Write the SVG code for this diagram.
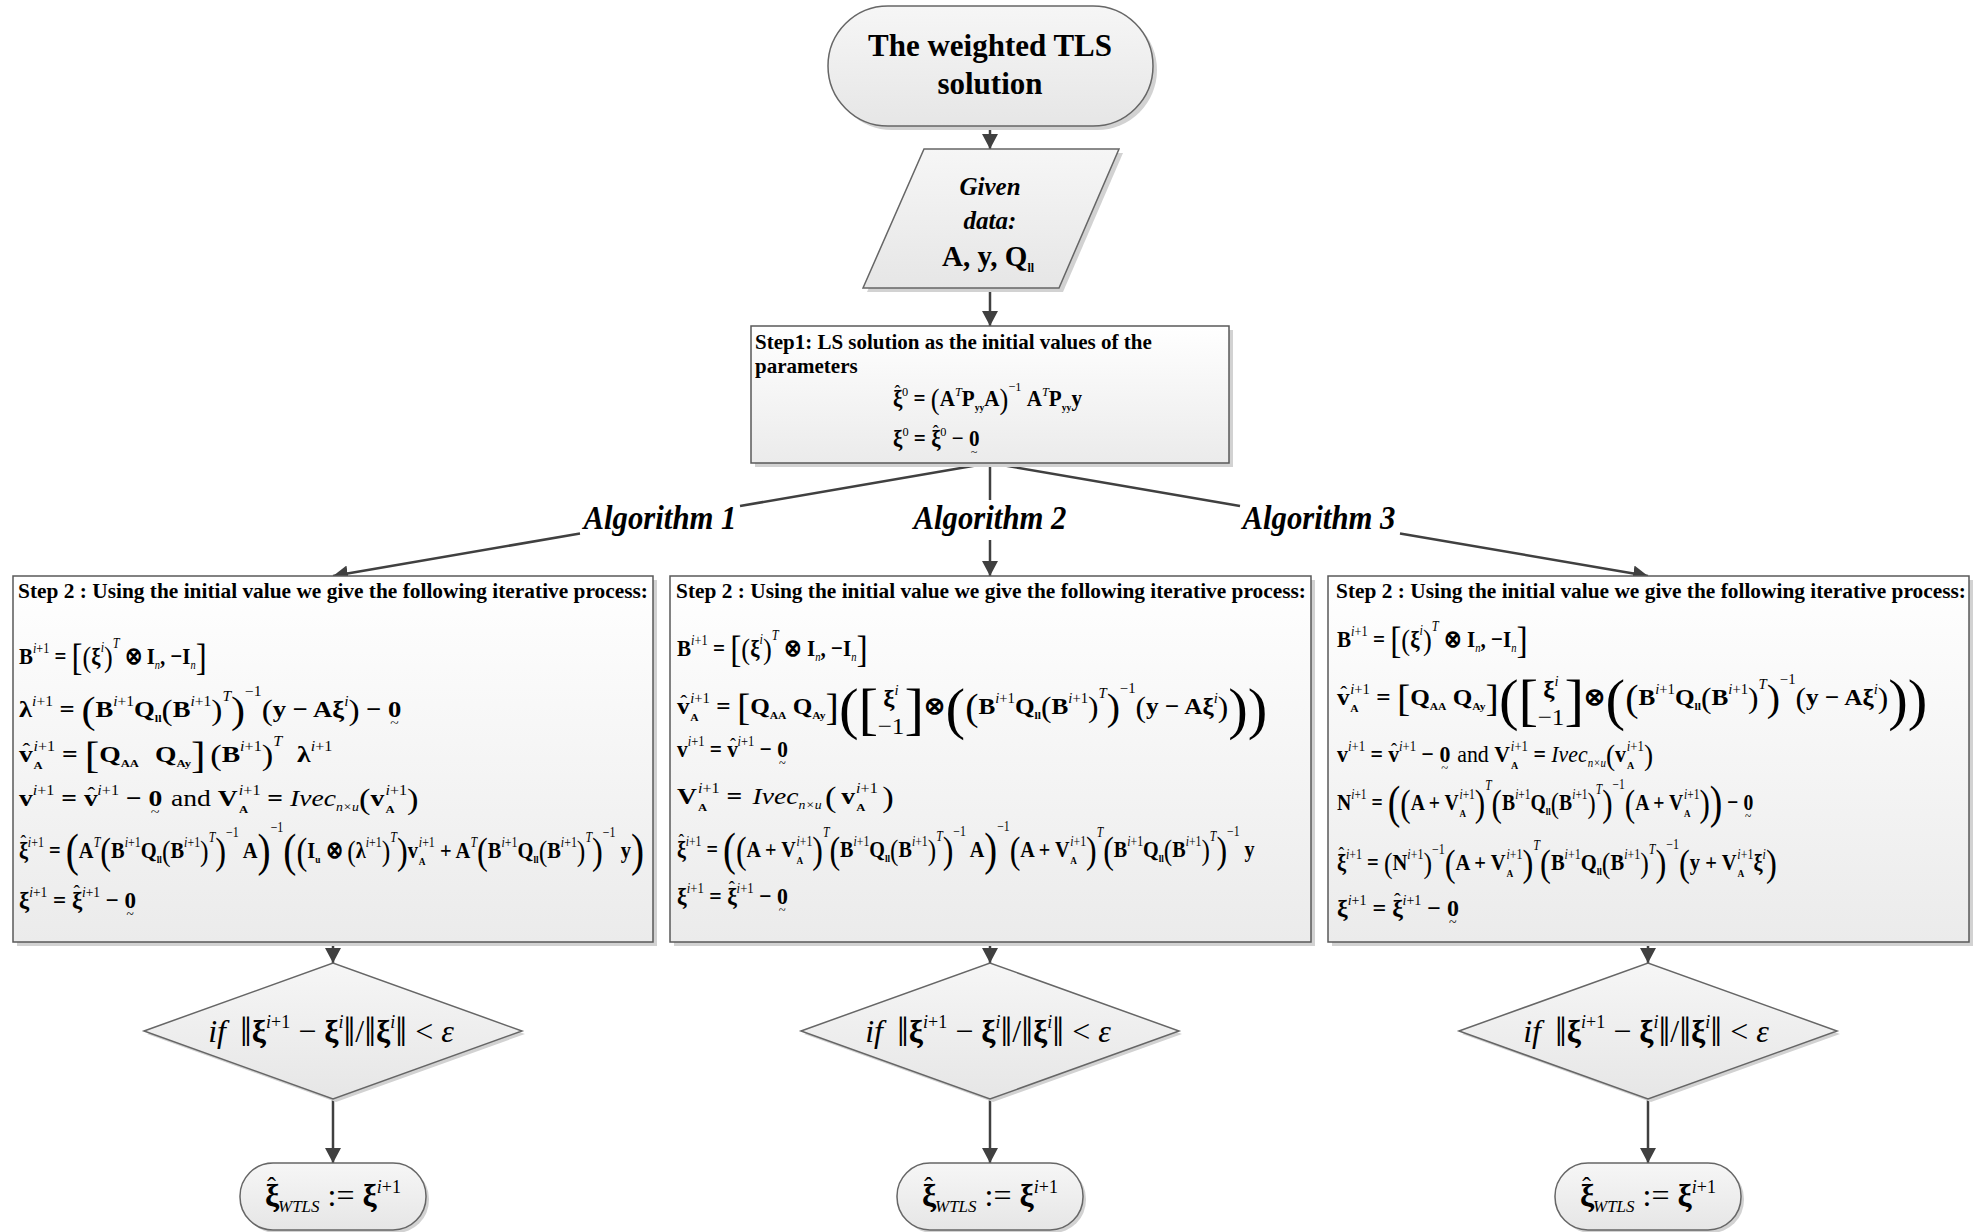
<svg xmlns="http://www.w3.org/2000/svg" width="1982" height="1232" viewBox="0 0 1982 1232">
<defs>
<style>
text{font-family:"Liberation Serif","Times New Roman",serif;fill:#000}
.box{fill:url(#gBox);stroke:#595959;stroke-width:1.5}
.term{fill:url(#gTerm);stroke:#666;stroke-width:1.5}
.sh{fill:#d2d2d2}
.cn{stroke:#404040;stroke-width:2.5;fill:none}
.ca{marker-end:url(#ah)}
.tt{font-size:31px;font-weight:bold}
.st{font-size:21px;font-weight:bold}
.gv{font-size:25px;font-weight:bold;font-style:italic}
.al{font-size:34px;font-weight:bold;font-style:italic}
.m{font-size:24px;font-weight:bold}
.r{font-weight:normal}
.i{font-style:italic;font-weight:normal}
.s{font-size:14px;font-weight:normal}
.sb{font-size:11px;font-weight:bold}
.si{font-size:12px;font-style:italic;font-weight:normal}
.p{font-size:30px;font-weight:normal}
.P{font-size:38px;font-weight:normal}
.Q{font-size:46px;font-weight:normal}
.B{font-size:56px;font-weight:normal}
.h{font-size:20px;font-weight:normal}
.t{font-size:14px;font-weight:normal}
.dt{font-size:32px}
.ds{font-size:18px}
.db{font-size:42px}
</style>
<linearGradient id="gBox" x1="0" y1="0" x2="0" y2="1"><stop offset="0" stop-color="#ffffff"/><stop offset="1" stop-color="#ebebeb"/></linearGradient>
<linearGradient id="gTerm" x1="0" y1="0" x2="0" y2="1"><stop offset="0" stop-color="#f6f6f6"/><stop offset="1" stop-color="#e6e6e6"/></linearGradient>
<marker id="ah" markerUnits="userSpaceOnUse" viewBox="0 0 15 16" refX="15" refY="8" markerWidth="15" markerHeight="16" orient="auto"><path d="M0,0 L15,8 L0,16 z" fill="#404040"/></marker>
</defs>
<rect width="1982" height="1232" fill="#fff"/>

<g id="connectors">
<line class="cn ca" x1="990" y1="126" x2="990" y2="149"/>
<line class="cn ca" x1="990" y1="288" x2="990" y2="326"/>
<line class="cn" x1="990" y1="463" x2="740" y2="506"/>
<line class="cn ca" x1="580" y1="533.5" x2="333" y2="576"/>
<line class="cn" x1="990" y1="463" x2="990" y2="500"/>
<line class="cn ca" x1="990" y1="540" x2="990" y2="576"/>
<line class="cn" x1="990" y1="463" x2="1240" y2="506"/>
<line class="cn ca" x1="1400" y1="533.5" x2="1648" y2="576"/>
<line class="cn ca" x1="333" y1="942" x2="333" y2="963"/>
<line class="cn ca" x1="990" y1="942" x2="990" y2="963"/>
<line class="cn ca" x1="1648" y1="942" x2="1648" y2="963"/>
<line class="cn ca" x1="333" y1="1099" x2="333" y2="1163"/>
<line class="cn ca" x1="990" y1="1099" x2="990" y2="1163"/>
<line class="cn ca" x1="1648" y1="1099" x2="1648" y2="1163"/>
<text class="al" x="660" y="529" text-anchor="middle" textLength="153" lengthAdjust="spacingAndGlyphs">Algorithm 1</text>
<text class="al" x="990" y="529" text-anchor="middle" textLength="153" lengthAdjust="spacingAndGlyphs">Algorithm 2</text>
<text class="al" x="1319" y="529" text-anchor="middle" textLength="153" lengthAdjust="spacingAndGlyphs">Algorithm 3</text>
</g>

<g id="start">
<rect class="sh" x="832" y="10" width="325" height="120" rx="60"/>
<rect class="term" x="828" y="6" width="325" height="120" rx="60"/>
<text class="tt" x="990" y="56" text-anchor="middle">The weighted TLS</text>
<text class="tt" x="990" y="94" text-anchor="middle">solution</text>
</g>

<g id="given">
<polygon class="sh" points="928,153 1123,153 1063,292 867,292"/>
<polygon class="term" points="924,149 1119,149 1059,288 863,288"/>
<text class="gv" x="990" y="195" text-anchor="middle">Given</text>
<text class="gv" x="990" y="229" text-anchor="middle">data:</text>
<text x="942" y="266" font-size="29" font-weight="bold">A, y, Q<tspan font-size="12" dy="6">ll</tspan></text>
</g>

<g id="step1">
<rect class="sh" x="755" y="330" width="478" height="137"/>
<rect class="box" x="751" y="326" width="478" height="137"/>
<text class="st" x="755" y="349">Step1: LS solution as the initial values of the</text>
<text class="st" x="755" y="373">parameters</text>
<g transform="translate(893,406) scale(0.88,0.95)"><text class="m"><tspan y="0">ξ</tspan><tspan class="h" dx="-9" y="-8">ˆ</tspan><tspan class="s" dx="2" y="-11">0</tspan><tspan y="0"> = </tspan><tspan class="p" y="3">(</tspan><tspan y="0">A</tspan><tspan class="s" y="-11" font-style="italic">T</tspan><tspan y="0">P</tspan><tspan class="sb" y="5">yy</tspan><tspan y="0">A</tspan><tspan class="p" y="3">)</tspan><tspan class="s" y="-16">−1</tspan><tspan y="0"> A</tspan><tspan class="s" y="-11" font-style="italic">T</tspan><tspan y="0">P</tspan><tspan class="sb" y="5">yy</tspan><tspan y="0">y</tspan></text></g>
<g transform="translate(893,446) scale(0.88,0.95)"><text class="m"><tspan y="0">ξ</tspan><tspan class="s" y="-11">0</tspan><tspan y="0"> = ξ</tspan><tspan class="h" dx="-9" y="-8">ˆ</tspan><tspan class="s" dx="2" y="-11">0</tspan><tspan y="0"> − 0</tspan><tspan class="t" dx="-10" y="11">~</tspan></text></g>
</g>

<g id="alg1">
<rect class="sh" x="17" y="580" width="640" height="366"/>
<rect class="box" x="13" y="576" width="640" height="366"/>
<text class="st" x="18" y="598" textLength="630" lengthAdjust="spacingAndGlyphs">Step 2 : Using the initial value we give the following iterative process:</text>
<g transform="translate(19,664) scale(0.87,1)"><text class="m"><tspan y="0">B</tspan><tspan class="s" y="-11"><tspan font-style="italic">i</tspan>+1</tspan><tspan y="0"> = </tspan><tspan class="P" y="6">[</tspan><tspan class="p" y="3">(</tspan><tspan y="0">ξ</tspan><tspan class="s" y="-12" font-style="italic">i</tspan><tspan class="p" y="3">)</tspan><tspan class="s" y="-16" font-style="italic">T</tspan><tspan y="0"> ⊗ I</tspan><tspan class="si" y="5">n</tspan><tspan y="0">, −I</tspan><tspan class="si" y="5">n</tspan><tspan class="P" y="6">]</tspan></text></g>
<g transform="translate(19,717) scale(1.11,1)"><text class="m"><tspan y="0">λ</tspan><tspan class="s" y="-11"><tspan font-style="italic">i</tspan>+1</tspan><tspan y="0"> = </tspan><tspan class="P" y="6">(</tspan><tspan y="0">B</tspan><tspan class="s" y="-11"><tspan font-style="italic">i</tspan>+1</tspan><tspan y="0">Q</tspan><tspan class="sb" y="5">ll</tspan><tspan class="p" y="3">(</tspan><tspan y="0">B</tspan><tspan class="s" y="-11"><tspan font-style="italic">i</tspan>+1</tspan><tspan class="p" y="3">)</tspan><tspan class="s" y="-16" font-style="italic">T</tspan><tspan class="P" y="6">)</tspan><tspan class="s" y="-21">−1</tspan><tspan class="p" y="3">(</tspan><tspan y="0">y − Aξ</tspan><tspan class="s" y="-11" font-style="italic">i</tspan><tspan class="p" y="3">)</tspan><tspan y="0"> − 0</tspan><tspan class="t" dx="-10" y="11">~</tspan></text></g>
<g transform="translate(19,762) scale(1.15,1)"><text class="m"><tspan y="0">v</tspan><tspan class="h" dx="-9" y="-4">ˆ</tspan><tspan class="sb" dx="3" y="7">A</tspan><tspan class="s" dx="-8" y="-11"><tspan font-style="italic">i</tspan>+1</tspan><tspan y="0"> = </tspan><tspan class="P" y="6">[</tspan><tspan y="0">Q</tspan><tspan class="sb" y="5">AA</tspan><tspan y="0" dx="8">  Q</tspan><tspan class="sb" y="5">Ay</tspan><tspan class="P" y="6">]</tspan><tspan class="p" y="3" dx="4">(</tspan><tspan y="0">B</tspan><tspan class="s" y="-11"><tspan font-style="italic">i</tspan>+1</tspan><tspan class="p" y="3">)</tspan><tspan class="s" y="-16" font-style="italic">T</tspan><tspan y="0" dx="7"> λ</tspan><tspan class="s" y="-11"><tspan font-style="italic">i</tspan>+1</tspan></text></g>
<g transform="translate(19,806) scale(1.15,1)"><text class="m"><tspan y="0">v</tspan><tspan class="s" y="-11"><tspan font-style="italic">i</tspan>+1</tspan><tspan y="0"> = v</tspan><tspan class="h" dx="-9" y="-4">ˆ</tspan><tspan class="s" dx="2" y="-11"><tspan font-style="italic">i</tspan>+1</tspan><tspan y="0"> − 0</tspan><tspan class="t" dx="-10" y="11">~</tspan><tspan class="r" dx="4" y="0">  and  </tspan><tspan y="0">V</tspan><tspan class="sb" dx="1" y="7">A</tspan><tspan class="s" dx="-8" y="-11"><tspan font-style="italic">i</tspan>+1</tspan><tspan y="0"> = </tspan><tspan class="i" y="0">Ivec</tspan><tspan class="si" y="5">n×u</tspan><tspan class="p" y="3">(</tspan><tspan y="0">v</tspan><tspan class="sb" dx="1" y="7">A</tspan><tspan class="s" dx="-8" y="-11"><tspan font-style="italic">i</tspan>+1</tspan><tspan class="p" y="3">)</tspan></text></g>
<g transform="translate(19,858) scale(0.853,1)"><text class="m"><tspan y="0">ξ</tspan><tspan class="h" dx="-9" y="-8">ˆ</tspan><tspan class="s" dx="2" y="-11"><tspan font-style="italic">i</tspan>+1</tspan><tspan y="0"> = </tspan><tspan class="Q" y="8">(</tspan><tspan y="0">A</tspan><tspan class="s" y="-11" font-style="italic">T</tspan><tspan class="P" y="6">(</tspan><tspan y="0">B</tspan><tspan class="s" y="-11"><tspan font-style="italic">i</tspan>+1</tspan><tspan y="0">Q</tspan><tspan class="sb" y="5">ll</tspan><tspan class="p" y="3">(</tspan><tspan y="0">B</tspan><tspan class="s" y="-11"><tspan font-style="italic">i</tspan>+1</tspan><tspan class="p" y="3">)</tspan><tspan class="s" y="-16" font-style="italic">T</tspan><tspan class="P" y="6">)</tspan><tspan class="s" y="-21">−1</tspan><tspan y="0"> A</tspan><tspan class="Q" y="8">)</tspan><tspan class="s" y="-26">−1</tspan><tspan class="Q" y="8">(</tspan><tspan class="P" y="6">(</tspan><tspan y="0">I</tspan><tspan class="sb" y="5">u</tspan><tspan y="0"> ⊗ </tspan><tspan class="p" y="3">(</tspan><tspan y="0">λ</tspan><tspan class="s" y="-11"><tspan font-style="italic">i</tspan>+1</tspan><tspan class="p" y="3">)</tspan><tspan class="s" y="-16" font-style="italic">T</tspan><tspan class="P" y="6">)</tspan><tspan y="0">v</tspan><tspan class="sb" dx="1" y="7">A</tspan><tspan class="s" dx="-8" y="-11"><tspan font-style="italic">i</tspan>+1</tspan><tspan y="0"> + A</tspan><tspan class="s" y="-11" font-style="italic">T</tspan><tspan class="P" y="6">(</tspan><tspan y="0">B</tspan><tspan class="s" y="-11"><tspan font-style="italic">i</tspan>+1</tspan><tspan y="0">Q</tspan><tspan class="sb" y="5">ll</tspan><tspan class="p" y="3">(</tspan><tspan y="0">B</tspan><tspan class="s" y="-11"><tspan font-style="italic">i</tspan>+1</tspan><tspan class="p" y="3">)</tspan><tspan class="s" y="-16" font-style="italic">T</tspan><tspan class="P" y="6">)</tspan><tspan class="s" y="-21">−1</tspan><tspan y="0"> y</tspan><tspan class="Q" y="8">)</tspan></text></g>
<g transform="translate(19,908) scale(0.96,1)"><text class="m"><tspan y="0">ξ</tspan><tspan class="s" y="-11"><tspan font-style="italic">i</tspan>+1</tspan><tspan y="0"> = ξ</tspan><tspan class="h" dx="-9" y="-8">ˆ</tspan><tspan class="s" dx="2" y="-11"><tspan font-style="italic">i</tspan>+1</tspan><tspan y="0"> − 0</tspan><tspan class="t" dx="-10" y="11">~</tspan></text></g>
</g>

<g id="alg2">
<rect class="sh" x="674" y="580" width="641" height="366"/>
<rect class="box" x="670" y="576" width="641" height="366"/>
<text class="st" x="676" y="598" textLength="630" lengthAdjust="spacingAndGlyphs">Step 2 : Using the initial value we give the following iterative process:</text>
<g transform="translate(677,656) scale(0.88,1)"><text class="m"><tspan y="0">B</tspan><tspan class="s" y="-11"><tspan font-style="italic">i</tspan>+1</tspan><tspan y="0"> = </tspan><tspan class="P" y="6">[</tspan><tspan class="p" y="3">(</tspan><tspan y="0">ξ</tspan><tspan class="s" y="-12" font-style="italic">i</tspan><tspan class="p" y="3">)</tspan><tspan class="s" y="-16" font-style="italic">T</tspan><tspan y="0"> ⊗ I</tspan><tspan class="si" y="5">n</tspan><tspan y="0">, −I</tspan><tspan class="si" y="5">n</tspan><tspan class="P" y="6">]</tspan></text></g>
<g transform="translate(677,714) scale(1.05,1)"><text class="m"><tspan y="0">v</tspan><tspan class="h" dx="-9" y="-4">ˆ</tspan><tspan class="sb" dx="3" y="7">A</tspan><tspan class="s" dx="-8" y="-11"><tspan font-style="italic">i</tspan>+1</tspan><tspan y="0"> = </tspan><tspan class="P" y="6">[</tspan><tspan y="0">Q</tspan><tspan class="sb" y="5">AA</tspan><tspan y="0">  Q</tspan><tspan class="sb" y="5">Ay</tspan><tspan class="P" y="6">]</tspan><tspan class="B" y="14">(</tspan><tspan class="B" y="14">[</tspan><tspan dx="5" y="-8">ξ</tspan><tspan class="s" y="-19" font-style="italic">i</tspan><tspan class="r" dx="-20" y="20">−1</tspan><tspan class="B" y="14">]</tspan><tspan y="0">⊗</tspan><tspan class="B" y="14">(</tspan><tspan class="P" y="6">(</tspan><tspan y="0">B</tspan><tspan class="s" y="-11"><tspan font-style="italic">i</tspan>+1</tspan><tspan y="0">Q</tspan><tspan class="sb" y="5">ll</tspan><tspan class="p" y="3">(</tspan><tspan y="0">B</tspan><tspan class="s" y="-11"><tspan font-style="italic">i</tspan>+1</tspan><tspan class="p" y="3">)</tspan><tspan class="s" y="-16" font-style="italic">T</tspan><tspan class="P" y="6">)</tspan><tspan class="s" y="-21">−1</tspan><tspan class="p" y="3">(</tspan><tspan y="0">y − Aξ</tspan><tspan class="s" y="-11" font-style="italic">i</tspan><tspan class="p" y="3">)</tspan><tspan class="B" y="14">)</tspan><tspan class="B" y="14">)</tspan></text></g>
<g transform="translate(677,757) scale(0.89,1)"><text class="m"><tspan y="0">v</tspan><tspan class="s" y="-11"><tspan font-style="italic">i</tspan>+1</tspan><tspan y="0"> = v</tspan><tspan class="h" dx="-9" y="-4">ˆ</tspan><tspan class="s" dx="2" y="-11"><tspan font-style="italic">i</tspan>+1</tspan><tspan y="0"> − 0</tspan><tspan class="t" dx="-10" y="11">~</tspan></text></g>
<g transform="translate(677,804) scale(1.15,1)"><text class="m"><tspan y="0">V</tspan><tspan class="sb" dx="1" y="7">A</tspan><tspan class="s" dx="-8" y="-11"><tspan font-style="italic">i</tspan>+1</tspan><tspan y="0"> = </tspan><tspan class="i" y="0" dx="3">Ivec</tspan><tspan class="si" y="5">n×u</tspan><tspan class="p" y="3" dx="3">(</tspan><tspan y="0" dx="4">v</tspan><tspan class="sb" dx="1" y="7">A</tspan><tspan class="s" dx="-8" y="-11"><tspan font-style="italic">i</tspan>+1</tspan><tspan class="p" y="3" dx="4">)</tspan></text></g>
<g transform="translate(677,857) scale(0.84,1)"><text class="m"><tspan y="0">ξ</tspan><tspan class="h" dx="-9" y="-8">ˆ</tspan><tspan class="s" dx="2" y="-11"><tspan font-style="italic">i</tspan>+1</tspan><tspan y="0"> = </tspan><tspan class="Q" y="8">(</tspan><tspan class="P" y="6">(</tspan><tspan y="0">A + V</tspan><tspan class="sb" dx="1" y="7">A</tspan><tspan class="s" dx="-8" y="-11"><tspan font-style="italic">i</tspan>+1</tspan><tspan class="P" y="6">)</tspan><tspan class="s" y="-20" font-style="italic">T</tspan><tspan class="P" y="6">(</tspan><tspan y="0">B</tspan><tspan class="s" y="-11"><tspan font-style="italic">i</tspan>+1</tspan><tspan y="0">Q</tspan><tspan class="sb" y="5">ll</tspan><tspan class="p" y="3">(</tspan><tspan y="0">B</tspan><tspan class="s" y="-11"><tspan font-style="italic">i</tspan>+1</tspan><tspan class="p" y="3">)</tspan><tspan class="s" y="-16" font-style="italic">T</tspan><tspan class="P" y="6">)</tspan><tspan class="s" y="-21">−1</tspan><tspan y="0"> A</tspan><tspan class="Q" y="8">)</tspan><tspan class="s" y="-26">−1</tspan><tspan class="P" y="6">(</tspan><tspan y="0">A + V</tspan><tspan class="sb" dx="1" y="7">A</tspan><tspan class="s" dx="-8" y="-11"><tspan font-style="italic">i</tspan>+1</tspan><tspan class="P" y="6">)</tspan><tspan class="s" y="-20" font-style="italic">T</tspan><tspan class="P" y="6">(</tspan><tspan y="0">B</tspan><tspan class="s" y="-11"><tspan font-style="italic">i</tspan>+1</tspan><tspan y="0">Q</tspan><tspan class="sb" y="5">ll</tspan><tspan class="p" y="3">(</tspan><tspan y="0">B</tspan><tspan class="s" y="-11"><tspan font-style="italic">i</tspan>+1</tspan><tspan class="p" y="3">)</tspan><tspan class="s" y="-16" font-style="italic">T</tspan><tspan class="P" y="6">)</tspan><tspan class="s" y="-21">−1</tspan><tspan y="0"> y</tspan></text></g>
<g transform="translate(677,904) scale(0.91,1)"><text class="m"><tspan y="0">ξ</tspan><tspan class="s" y="-11"><tspan font-style="italic">i</tspan>+1</tspan><tspan y="0"> = ξ</tspan><tspan class="h" dx="-9" y="-8">ˆ</tspan><tspan class="s" dx="2" y="-11"><tspan font-style="italic">i</tspan>+1</tspan><tspan y="0"> − 0</tspan><tspan class="t" dx="-10" y="11">~</tspan></text></g>
</g>

<g id="alg3">
<rect class="sh" x="1332" y="580" width="641" height="366"/>
<rect class="box" x="1328" y="576" width="641" height="366"/>
<text class="st" x="1336" y="598" textLength="630" lengthAdjust="spacingAndGlyphs">Step 2 : Using the initial value we give the following iterative process:</text>
<g transform="translate(1337,647) scale(0.88,1)"><text class="m"><tspan y="0">B</tspan><tspan class="s" y="-11"><tspan font-style="italic">i</tspan>+1</tspan><tspan y="0"> = </tspan><tspan class="P" y="6">[</tspan><tspan class="p" y="3">(</tspan><tspan y="0">ξ</tspan><tspan class="s" y="-12" font-style="italic">i</tspan><tspan class="p" y="3">)</tspan><tspan class="s" y="-16" font-style="italic">T</tspan><tspan y="0"> ⊗ I</tspan><tspan class="si" y="5">n</tspan><tspan y="0">, −I</tspan><tspan class="si" y="5">n</tspan><tspan class="P" y="6">]</tspan></text></g>
<g transform="translate(1337,705) scale(1.05,1)"><text class="m"><tspan y="0">v</tspan><tspan class="h" dx="-9" y="-4">ˆ</tspan><tspan class="sb" dx="3" y="7">A</tspan><tspan class="s" dx="-8" y="-11"><tspan font-style="italic">i</tspan>+1</tspan><tspan y="0"> = </tspan><tspan class="P" y="6">[</tspan><tspan y="0">Q</tspan><tspan class="sb" y="5">AA</tspan><tspan y="0">  Q</tspan><tspan class="sb" y="5">Ay</tspan><tspan class="P" y="6">]</tspan><tspan class="B" y="14">(</tspan><tspan class="B" y="14">[</tspan><tspan dx="5" y="-8">ξ</tspan><tspan class="s" y="-19" font-style="italic">i</tspan><tspan class="r" dx="-20" y="20">−1</tspan><tspan class="B" y="14">]</tspan><tspan y="0">⊗</tspan><tspan class="B" y="14">(</tspan><tspan class="P" y="6">(</tspan><tspan y="0">B</tspan><tspan class="s" y="-11"><tspan font-style="italic">i</tspan>+1</tspan><tspan y="0">Q</tspan><tspan class="sb" y="5">ll</tspan><tspan class="p" y="3">(</tspan><tspan y="0">B</tspan><tspan class="s" y="-11"><tspan font-style="italic">i</tspan>+1</tspan><tspan class="p" y="3">)</tspan><tspan class="s" y="-16" font-style="italic">T</tspan><tspan class="P" y="6">)</tspan><tspan class="s" y="-21">−1</tspan><tspan class="p" y="3">(</tspan><tspan y="0">y − Aξ</tspan><tspan class="s" y="-11" font-style="italic">i</tspan><tspan class="p" y="3">)</tspan><tspan class="B" y="14">)</tspan><tspan class="B" y="14">)</tspan></text></g>
<g transform="translate(1337,762) scale(0.91,1)"><text class="m"><tspan y="0">v</tspan><tspan class="s" y="-11"><tspan font-style="italic">i</tspan>+1</tspan><tspan y="0"> = v</tspan><tspan class="h" dx="-9" y="-4">ˆ</tspan><tspan class="s" dx="2" y="-11"><tspan font-style="italic">i</tspan>+1</tspan><tspan y="0"> − 0</tspan><tspan class="t" dx="-10" y="11">~</tspan><tspan class="r" dx="4" y="0">  and </tspan><tspan y="0">V</tspan><tspan class="sb" dx="1" y="7">A</tspan><tspan class="s" dx="-8" y="-11"><tspan font-style="italic">i</tspan>+1</tspan><tspan y="0"> = </tspan><tspan class="i" y="0">Ivec</tspan><tspan class="si" y="5">n×u</tspan><tspan class="p" y="3">(</tspan><tspan y="0">v</tspan><tspan class="sb" dx="1" y="7">A</tspan><tspan class="s" dx="-8" y="-11"><tspan font-style="italic">i</tspan>+1</tspan><tspan class="p" y="3">)</tspan></text></g>
<g transform="translate(1337,810) scale(0.82,1)"><text class="m"><tspan y="0">N</tspan><tspan class="s" y="-11"><tspan font-style="italic">i</tspan>+1</tspan><tspan y="0"> = </tspan><tspan class="Q" y="8">(</tspan><tspan class="P" y="6">(</tspan><tspan y="0">A + V</tspan><tspan class="sb" dx="1" y="7">A</tspan><tspan class="s" dx="-8" y="-11"><tspan font-style="italic">i</tspan>+1</tspan><tspan class="P" y="6">)</tspan><tspan class="s" y="-20" font-style="italic">T</tspan><tspan class="P" y="6">(</tspan><tspan y="0">B</tspan><tspan class="s" y="-11"><tspan font-style="italic">i</tspan>+1</tspan><tspan y="0">Q</tspan><tspan class="sb" y="5">ll</tspan><tspan class="p" y="3">(</tspan><tspan y="0">B</tspan><tspan class="s" y="-11"><tspan font-style="italic">i</tspan>+1</tspan><tspan class="p" y="3">)</tspan><tspan class="s" y="-16" font-style="italic">T</tspan><tspan class="P" y="6">)</tspan><tspan class="s" y="-21">−1</tspan><tspan class="P" y="6">(</tspan><tspan y="0">A + V</tspan><tspan class="sb" dx="1" y="7">A</tspan><tspan class="s" dx="-8" y="-11"><tspan font-style="italic">i</tspan>+1</tspan><tspan class="P" y="6">)</tspan><tspan class="Q" y="8">)</tspan><tspan y="0"> − 0</tspan><tspan class="t" dx="-10" y="11">~</tspan></text></g>
<g transform="translate(1337,870) scale(0.856,1)"><text class="m"><tspan y="0">ξ</tspan><tspan class="h" dx="-9" y="-8">ˆ</tspan><tspan class="s" dx="2" y="-11"><tspan font-style="italic">i</tspan>+1</tspan><tspan y="0"> = </tspan><tspan class="p" y="3">(</tspan><tspan y="0">N</tspan><tspan class="s" y="-11"><tspan font-style="italic">i</tspan>+1</tspan><tspan class="p" y="3">)</tspan><tspan class="s" y="-16">−1</tspan><tspan class="P" y="6">(</tspan><tspan y="0">A + V</tspan><tspan class="sb" dx="1" y="7">A</tspan><tspan class="s" dx="-8" y="-11"><tspan font-style="italic">i</tspan>+1</tspan><tspan class="P" y="6">)</tspan><tspan class="s" y="-20" font-style="italic">T</tspan><tspan class="P" y="6">(</tspan><tspan y="0">B</tspan><tspan class="s" y="-11"><tspan font-style="italic">i</tspan>+1</tspan><tspan y="0">Q</tspan><tspan class="sb" y="5">ll</tspan><tspan class="p" y="3">(</tspan><tspan y="0">B</tspan><tspan class="s" y="-11"><tspan font-style="italic">i</tspan>+1</tspan><tspan class="p" y="3">)</tspan><tspan class="s" y="-16" font-style="italic">T</tspan><tspan class="P" y="6">)</tspan><tspan class="s" y="-21">−1</tspan><tspan class="P" y="6">(</tspan><tspan y="0">y + V</tspan><tspan class="sb" dx="1" y="7">A</tspan><tspan class="s" dx="-8" y="-11"><tspan font-style="italic">i</tspan>+1</tspan><tspan y="0">ξ</tspan><tspan class="s" y="-11" font-style="italic">i</tspan><tspan class="P" y="6">)</tspan></text></g>
<g transform="translate(1337,916) scale(1,1)"><text class="m"><tspan y="0">ξ</tspan><tspan class="s" y="-11"><tspan font-style="italic">i</tspan>+1</tspan><tspan y="0"> = ξ</tspan><tspan class="h" dx="-9" y="-8">ˆ</tspan><tspan class="s" dx="2" y="-11"><tspan font-style="italic">i</tspan>+1</tspan><tspan y="0"> − 0</tspan><tspan class="t" dx="-10" y="11">~</tspan></text></g>
</g>

<g id="check1">
<polygon class="sh" points="147,1034 336,966 525,1034 336,1102"/>
<polygon class="term" points="144,1031 333,963 522,1031 333,1099"/>
<text class="dt" x="331" y="1042" text-anchor="middle"><tspan font-style="italic">if</tspan><tspan class="db" dx="14" dy="4">‖</tspan><tspan font-weight="bold" dy="-4">ξ</tspan><tspan class="ds" dy="-14"><tspan font-style="italic">i</tspan>+1</tspan><tspan dy="14"> − </tspan><tspan font-weight="bold">ξ</tspan><tspan class="ds" dy="-14" font-style="italic">i</tspan><tspan class="db" dy="18">‖</tspan><tspan dy="-4">/</tspan><tspan class="db" dy="4">‖</tspan><tspan font-weight="bold" dy="-4">ξ</tspan><tspan class="ds" dy="-14" font-style="italic">i</tspan><tspan class="db" dy="18">‖</tspan><tspan dy="-4"> &lt; </tspan><tspan font-style="italic">ε</tspan></text>
</g>
<g id="check2">
<polygon class="sh" points="804,1034 993,966 1182,1034 993,1102"/>
<polygon class="term" points="801,1031 990,963 1179,1031 990,1099"/>
<text class="dt" x="988" y="1042" text-anchor="middle"><tspan font-style="italic">if</tspan><tspan class="db" dx="14" dy="4">‖</tspan><tspan font-weight="bold" dy="-4">ξ</tspan><tspan class="ds" dy="-14"><tspan font-style="italic">i</tspan>+1</tspan><tspan dy="14"> − </tspan><tspan font-weight="bold">ξ</tspan><tspan class="ds" dy="-14" font-style="italic">i</tspan><tspan class="db" dy="18">‖</tspan><tspan dy="-4">/</tspan><tspan class="db" dy="4">‖</tspan><tspan font-weight="bold" dy="-4">ξ</tspan><tspan class="ds" dy="-14" font-style="italic">i</tspan><tspan class="db" dy="18">‖</tspan><tspan dy="-4"> &lt; </tspan><tspan font-style="italic">ε</tspan></text>
</g>
<g id="check3">
<polygon class="sh" points="1462,1034 1651,966 1840,1034 1651,1102"/>
<polygon class="term" points="1459,1031 1648,963 1837,1031 1648,1099"/>
<text class="dt" x="1646" y="1042" text-anchor="middle"><tspan font-style="italic">if</tspan><tspan class="db" dx="14" dy="4">‖</tspan><tspan font-weight="bold" dy="-4">ξ</tspan><tspan class="ds" dy="-14"><tspan font-style="italic">i</tspan>+1</tspan><tspan dy="14"> − </tspan><tspan font-weight="bold">ξ</tspan><tspan class="ds" dy="-14" font-style="italic">i</tspan><tspan class="db" dy="18">‖</tspan><tspan dy="-4">/</tspan><tspan class="db" dy="4">‖</tspan><tspan font-weight="bold" dy="-4">ξ</tspan><tspan class="ds" dy="-14" font-style="italic">i</tspan><tspan class="db" dy="18">‖</tspan><tspan dy="-4"> &lt; </tspan><tspan font-style="italic">ε</tspan></text>
</g>

<g id="end1">
<rect class="sh" x="243" y="1166" width="186" height="67" rx="33"/>
<rect class="term" x="240" y="1163" width="186" height="67" rx="33"/>
<text class="dt" x="333" y="1206" text-anchor="middle"><tspan font-weight="bold">ξ</tspan><tspan font-size="26" dx="-12" dy="-11">ˆ</tspan><tspan font-size="17" font-style="italic" dx="2" dy="17">WTLS</tspan><tspan dy="-6"> := </tspan><tspan font-weight="bold">ξ</tspan><tspan class="ds" dy="-13"><tspan font-style="italic">i</tspan>+1</tspan></text>
</g>
<g id="end2">
<rect class="sh" x="900" y="1166" width="186" height="67" rx="33"/>
<rect class="term" x="897" y="1163" width="186" height="67" rx="33"/>
<text class="dt" x="990" y="1206" text-anchor="middle"><tspan font-weight="bold">ξ</tspan><tspan font-size="26" dx="-12" dy="-11">ˆ</tspan><tspan font-size="17" font-style="italic" dx="2" dy="17">WTLS</tspan><tspan dy="-6"> := </tspan><tspan font-weight="bold">ξ</tspan><tspan class="ds" dy="-13"><tspan font-style="italic">i</tspan>+1</tspan></text>
</g>
<g id="end3">
<rect class="sh" x="1558" y="1166" width="186" height="67" rx="33"/>
<rect class="term" x="1555" y="1163" width="186" height="67" rx="33"/>
<text class="dt" x="1648" y="1206" text-anchor="middle"><tspan font-weight="bold">ξ</tspan><tspan font-size="26" dx="-12" dy="-11">ˆ</tspan><tspan font-size="17" font-style="italic" dx="2" dy="17">WTLS</tspan><tspan dy="-6"> := </tspan><tspan font-weight="bold">ξ</tspan><tspan class="ds" dy="-13"><tspan font-style="italic">i</tspan>+1</tspan></text>
</g>
</svg>
